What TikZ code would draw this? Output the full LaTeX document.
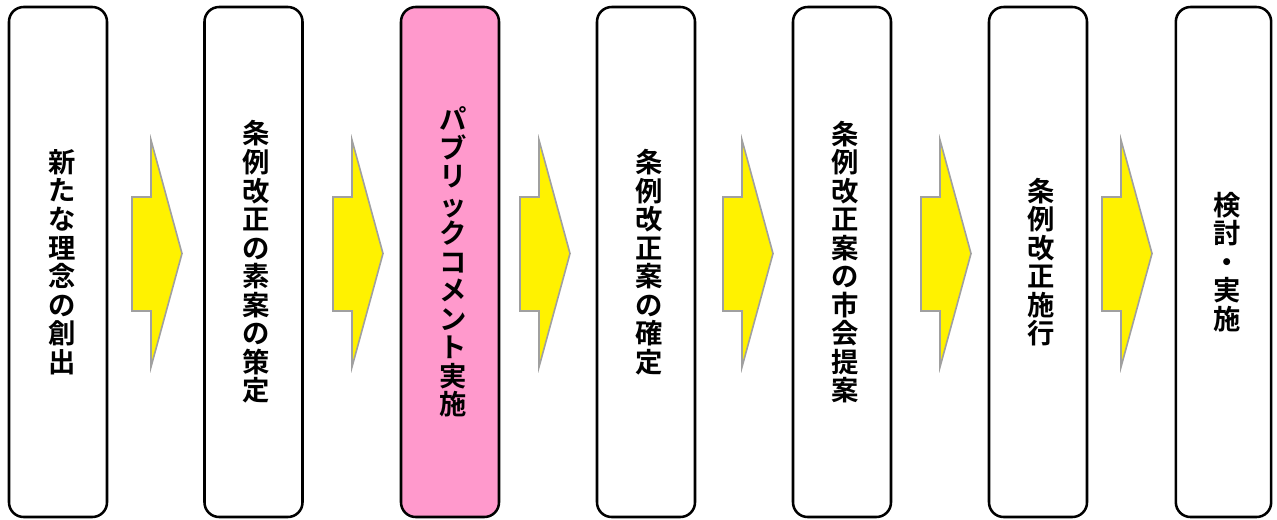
\documentclass[tikz,border=0pt]{standalone}
\usepackage{fontspec}
\newfontfamily\jp{Noto Sans CJK JP}[BoldFont={Noto Sans CJK JP Bold}]
\definecolor{pinkfill}{HTML}{FF99CC}
\definecolor{arrowline}{HTML}{A0A0A0}
\begin{document}
\begin{tikzpicture}[x=0.75pt,y=-0.75pt,
  stepbox/.style={draw=black, line width=1.9pt, rounded corners=11pt, fill=white,
    minimum width=73.5pt, minimum height=382.5pt, inner sep=0pt},
  steptext/.style={inner sep=0pt, align=center,
    font=\jp\bfseries\fontsize{20.5}{21.4}\selectfont},
  blockarrow/.style={fill=yellow, draw=arrowline, line width=1.2pt, line join=miter}]
\useasboundingbox (0,0) rectangle (1277,519);
\node[stepbox] (b1) at (58,262) {};
\node[stepbox] (b2) at (253.5,262) {};
\node[stepbox, fill=pinkfill] (b3) at (450,262) {};
\node[stepbox] (b4) at (646,262) {};
\node[stepbox] (b5) at (842,262) {};
\node[stepbox] (b6) at (1038,262) {};
\node[stepbox, minimum width=71.5pt] (b7) at (1223.5,262) {};
\node[steptext] (t1) at ([xshift=3pt]b1.center) {新\\た\\な\\理\\念\\の\\創\\出};
\node[steptext] (t2) at ([xshift=2pt]b2.center) {条\\例\\改\\正\\の\\素\\案\\の\\策\\定};
\node[steptext] (t3) at ([xshift=2pt]b3.center) {パ\\ブ\\リ\\ッ\\ク\\コ\\メ\\ン\\ト\\実\\施};
\node[steptext] (t4) at ([xshift=2pt]b4.center) {条\\例\\改\\正\\案\\の\\確\\定};
\node[steptext] (t5) at ([xshift=2pt]b5.center) {条\\例\\改\\正\\案\\の\\市\\会\\提\\案};
\node[steptext] (t6) at ([xshift=2pt]b6.center) {条\\例\\改\\正\\施\\行};
\node[steptext] (t7) at ([xshift=3pt]b7.center) {検\\討\\・\\実\\施};
\foreach \x in {132,333,520,723,921,1102}{
  \draw[blockarrow] (\x,197) -- (\x+19,197) -- (\x+19,140) -- (\x+50,253.5)
    -- (\x+19,367) -- (\x+19,311) -- (\x,311) -- cycle;
}
\end{tikzpicture}
\end{document}
